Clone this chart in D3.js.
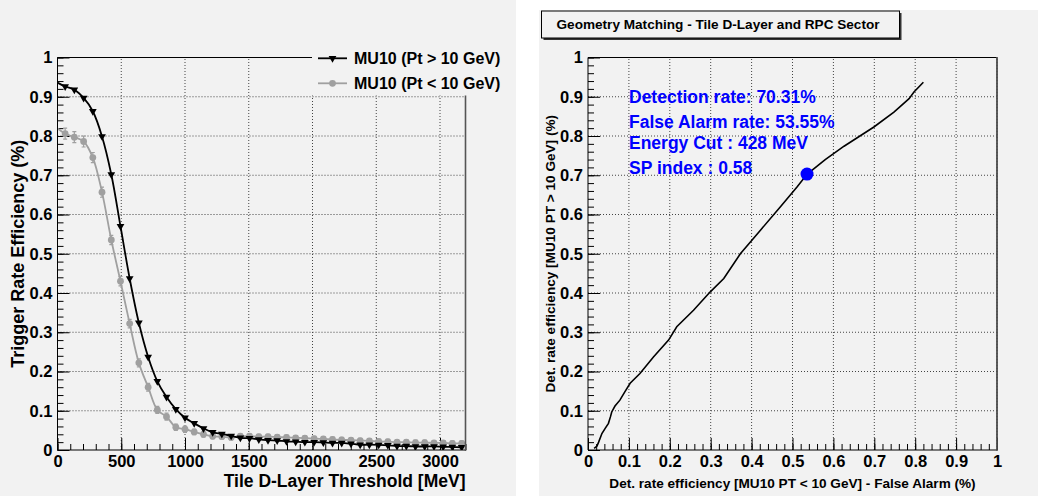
<!DOCTYPE html>
<html><head><meta charset="utf-8">
<script src="https://cdn.jsdelivr.net/npm/d3@7"></script>
<style>
html,body{margin:0;padding:0;background:#fff;}
svg{display:block;font-family:"Liberation Sans",Arial,Helvetica,sans-serif;font-weight:bold;}
</style></head><body>
<svg id="c" width="1038" height="496"></svg>
<script>
// ---------- data ----------
const thresholds = [0, 60, 132, 205, 277, 349, 422, 494, 566, 638, 711, 783, 855, 928, 1000, 1072, 1145, 1217, 1289, 1362, 1434, 1506, 1579, 1651, 1723, 1796, 1868, 1940, 2013, 2085, 2157, 2229, 2302, 2374, 2446, 2519, 2591, 2663, 2736, 2808, 2880, 2953, 3025, 3097, 3170];
const effHighPt = [0.936, 0.926, 0.918, 0.897, 0.863, 0.799, 0.702, 0.570, 0.437, 0.324, 0.237, 0.175, 0.135, 0.104, 0.082, 0.068, 0.055, 0.045, 0.041, 0.036, 0.031, 0.030, 0.027, 0.025, 0.024, 0.022, 0.021, 0.020, 0.020, 0.019, 0.018, 0.018, 0.016, 0.0135, 0.0135, 0.013, 0.012, 0.010, 0.010, 0.009, 0.009, 0.009, 0.008, 0.0076, 0.007];
const effLowPt = [0.819, 0.806, 0.797, 0.786, 0.745, 0.657, 0.535, 0.430, 0.322, 0.222, 0.160, 0.102, 0.085, 0.058, 0.053, 0.046, 0.040, 0.035, 0.034, 0.032, 0.035, 0.035, 0.034, 0.034, 0.033, 0.032, 0.031, 0.030, 0.029, 0.028, 0.027, 0.026, 0.025, 0.024, 0.023, 0.022, 0.021, 0.020, 0.020, 0.019, 0.019, 0.018, 0.018, 0.017, 0.017];
const errLowPt = [0, 0.014, 0.014, 0.014, 0.013, 0.013, 0.012, 0.012, 0.011, 0.010, 0.010, 0.009, 0.009, 0.008, 0.008, 0.007, 0.007, 0.006, 0.006, 0.006, 0.006, 0.006, 0.006, 0.006, 0.006, 0.006, 0.006, 0.006, 0.006, 0.006, 0.006, 0.006, 0.006, 0.006, 0.006, 0.006, 0.006, 0.006, 0.006, 0.006, 0.006, 0.006, 0.006, 0.006, 0.006];

const rocFalseAlarm = [0.015, 0.022, 0.026, 0.034, 0.042, 0.05, 0.055, 0.058, 0.066, 0.078, 0.09, 0.103, 0.127, 0.16, 0.197, 0.217, 0.258, 0.299, 0.332, 0.3725, 0.4216, 0.47, 0.511, 0.536, 0.58, 0.626, 0.699, 0.748, 0.785, 0.797, 0.82];
const rocDetection = [0.004, 0.01, 0.02, 0.042, 0.055, 0.068, 0.085, 0.097, 0.112, 0.127, 0.148, 0.17, 0.195, 0.237, 0.28, 0.314, 0.356, 0.403, 0.437, 0.5, 0.56, 0.619, 0.67, 0.703, 0.74, 0.774, 0.823, 0.861, 0.895, 0.912, 0.937];

const cutFalseAlarm = 0.5355;
const cutDetection = 0.7031;

const effTicks = [0, 0.1, 0.2, 0.3, 0.4, 0.5, 0.6, 0.7, 0.8, 0.9, 1];
const thresholdTicks = [0, 500, 1000, 1500, 2000, 2500, 3000];
const legendLabels = ["MU10 (Pt > 10 GeV)", "MU10 (Pt < 10 GeV)"];
const infoLines = ["Detection rate: 70.31%", "False Alarm rate: 53.55%", "Energy Cut : 428 MeV", "SP index : 0.58"];
const titleRight = "Geometry Matching - Tile D-Layer and RPC Sector";
const xTitleLeft = "Tile D-Layer Threshold [MeV]";
const yTitleLeft = "Trigger Rate Efficiency (%)";
const xTitleRight = "Det. rate efficiency [MU10 PT < 10 GeV] - False Alarm (%)";
const yTitleRight = "Det. rate efficiency [MU10 PT > 10 GeV] (%)";

// ---------- drawing ----------
const svg = d3.select("#c");
const BG = "#f2f2f2";
const GRAY = "#a0a0a0";
const BLUE = "#0000ff";
const fmt = v => String(+v.toFixed(1));

svg.append("rect").attr("x",0).attr("y",0).attr("width",516).attr("height",496).attr("fill",BG);
svg.append("rect").attr("x",539).attr("y",10).attr("width",499).attr("height",486).attr("fill",BG);

function frameAxes(g, x, y, xTicks, xMinor, yTicks, yMinor, xFmt) {
  const [x0,x1] = x.range(), [y0,y1] = y.range();
  g.append("g").selectAll("line").data(xTicks.slice(1)).join("line")
    .attr("x1", d=>x(d)).attr("x2", d=>x(d)).attr("y1", y0).attr("y2", y1)
    .attr("stroke","#444").attr("stroke-width",1).attr("stroke-dasharray","1,2");
  g.append("g").selectAll("line").data(yTicks.slice(1)).join("line")
    .attr("x1", x0).attr("x2", x1).attr("y1", d=>y(d)).attr("y2", d=>y(d))
    .attr("stroke","#444").attr("stroke-width",1).attr("stroke-dasharray","1,2");
  const ax = g.append("g").attr("transform",`translate(0,${y0})`)
    .call(d3.axisBottom(x).tickValues(xTicks).tickSize(-12).tickPadding(6).tickFormat(xFmt));
  const axm = g.append("g").attr("transform",`translate(0,${y0})`)
    .call(d3.axisBottom(x).tickValues(xMinor).tickSize(-6).tickFormat(""));
  const ay = g.append("g").attr("transform",`translate(${x0},0)`)
    .call(d3.axisLeft(y).tickValues(yTicks).tickSize(-12).tickPadding(5).tickFormat(fmt));
  const aym = g.append("g").attr("transform",`translate(${x0},0)`)
    .call(d3.axisLeft(y).tickValues(yMinor).tickSize(-6).tickFormat(""));
  [ax,axm,ay,aym].forEach(a => {
    a.select(".domain").remove();
    a.selectAll("line").attr("stroke","#000").attr("stroke-width",1);
    a.selectAll("text").attr("font-size",16.5).attr("font-family",null).attr("fill","#000");
  });
  ax.selectAll("text").attr("dy",null).attr("y",17);
  return {ax, ay};
}

// ===== LEFT PANEL =====
const xL = d3.scaleLinear().domain([0,3200]).range([57.5,465.5]);
const yL = d3.scaleLinear().domain([0,1]).range([450,57.5]);
const gL = svg.append("g");
const minorX = d3.range(0,3201,100);
const minorY = d3.range(0,1.0001,0.02);
frameAxes(gL, xL, yL, thresholdTicks, minorX, effTicks, minorY, d3.format("d"));

svg.append("defs").append("clipPath").attr("id","clipL").append("rect")
  .attr("x",57.5).attr("y",57.5).attr("width",408).attr("height",392.5);
const plotL = gL.append("g").attr("clip-path","url(#clipL)");

const lineL = d3.line().curve(d3.curveCatmullRom.alpha(0.5));
const lowPts = thresholds.map((t,i)=>[xL(t), yL(effLowPt[i])]);
const highPts = thresholds.map((t,i)=>[xL(t), yL(effHighPt[i])]);

plotL.append("path").attr("d", lineL(lowPts)).attr("fill","none").attr("stroke",GRAY).attr("stroke-width",1.8);
const lowIdx = d3.range(1, thresholds.length);
plotL.append("g").selectAll("path").data(lowIdx).join("path")
  .attr("d", i => {
    const x = xL(thresholds[i]), ya = yL(effLowPt[i]-errLowPt[i]), yb = yL(effLowPt[i]+errLowPt[i]);
    return `M${x},${ya}V${yb}M${x-2},${ya}H${x+2}M${x-2},${yb}H${x+2}`;
  }).attr("stroke",GRAY).attr("stroke-width",1.2).attr("fill","none");
plotL.append("g").selectAll("circle").data(lowIdx).join("circle")
  .attr("cx", i=>xL(thresholds[i])).attr("cy", i=>yL(effLowPt[i])).attr("r",3.4).attr("fill",GRAY);

plotL.append("path").attr("d", lineL(highPts)).attr("fill","none").attr("stroke","#000").attr("stroke-width",1.8);
const tri = d3.symbol(d3.symbolTriangle, 26);
plotL.append("g").selectAll("path").data(lowIdx).join("path")
  .attr("d", tri()).attr("fill","#000")
  .attr("transform", i => `translate(${xL(thresholds[i])},${yL(effHighPt[i])}) rotate(180)`);

gL.append("path").attr("d",`M57.5,57.5H465.5V450H57.5Z`).attr("fill","none").attr("stroke","#000").attr("stroke-width",1);
gL.append("line").attr("x1",465.5).attr("x2",465.5).attr("y1",57).attr("y2",451).attr("stroke","#555").attr("stroke-width",1.6);

const leg = gL.append("g");
leg.append("rect").attr("x",312).attr("y",40).attr("width",203).attr("height",55.5).attr("fill",BG);
const legY = [58.3, 83.3];
leg.append("line").attr("x1",318).attr("x2",347).attr("y1",legY[0]).attr("y2",legY[0]).attr("stroke","#000").attr("stroke-width",1.8);
leg.append("path").attr("d",tri()).attr("fill","#000").attr("transform",`translate(332.5,${legY[0]}) rotate(180)`);
leg.append("line").attr("x1",318).attr("x2",347).attr("y1",legY[1]).attr("y2",legY[1]).attr("stroke",GRAY).attr("stroke-width",1.8);
leg.append("circle").attr("cx",332.5).attr("cy",legY[1]).attr("r",3.4).attr("fill",GRAY);
leg.selectAll("text").data(legendLabels).join("text")
  .attr("x",354).attr("y",(d,i)=>legY[i]+5.8).attr("font-size",16).text(d=>d);

gL.append("text").attr("x",465.5).attr("y",487).attr("text-anchor","end").attr("font-size",17.5).text(xTitleLeft);
gL.append("text").attr("transform","translate(23.5,253.75) rotate(-90)").attr("text-anchor","middle").attr("font-size",18).text(yTitleLeft);

// ===== RIGHT PANEL =====
const xR = d3.scaleLinear().domain([0,1]).range([588,997]);
const yR = d3.scaleLinear().domain([0,1]).range([450,57.5]);
const gR = svg.append("g");
frameAxes(gR, xR, yR, effTicks, minorY, effTicks, minorY, fmt);

const lineR = d3.line();
gR.append("path").attr("d", lineR(rocFalseAlarm.map((v,i)=>[xR(v), yR(rocDetection[i])])))
  .attr("fill","none").attr("stroke","#000").attr("stroke-width",1.6);
gR.append("circle").attr("cx",xR(cutFalseAlarm)).attr("cy",yR(cutDetection)).attr("r",6.5).attr("fill",BLUE);

gR.append("path").attr("d",`M588,57.5H997V450H588Z`).attr("fill","none").attr("stroke","#000").attr("stroke-width",1);
gR.append("line").attr("x1",997).attr("x2",997).attr("y1",57).attr("y2",451).attr("stroke","#555").attr("stroke-width",1.6);

const infoY = [103.3, 127.7, 148.9, 174.3];
gR.selectAll("text.info").data(infoLines).join("text").attr("class","info")
  .attr("x",629).attr("y",(d,i)=>infoY[i]).attr("font-size",17.5).attr("fill",BLUE).text(d=>d);

gR.append("rect").attr("x",543.5).attr("y",13).attr("width",358).attr("height",27).attr("fill","#333");
gR.append("rect").attr("x",541.5).attr("y",11).attr("width",358).attr("height",27).attr("fill",BG).attr("stroke","#000").attr("stroke-width",1);
gR.append("text").attr("x",556.5).attr("y",29.3).attr("font-size",13.6).text(titleRight);

gR.append("text").attr("x",792.5).attr("y",487.5).attr("text-anchor","middle").attr("font-size",13.6).text(xTitleRight);
gR.append("text").attr("transform","translate(555,253.75) rotate(-90)").attr("text-anchor","middle").attr("font-size",13.6).text(yTitleRight);
</script>
</body></html>
